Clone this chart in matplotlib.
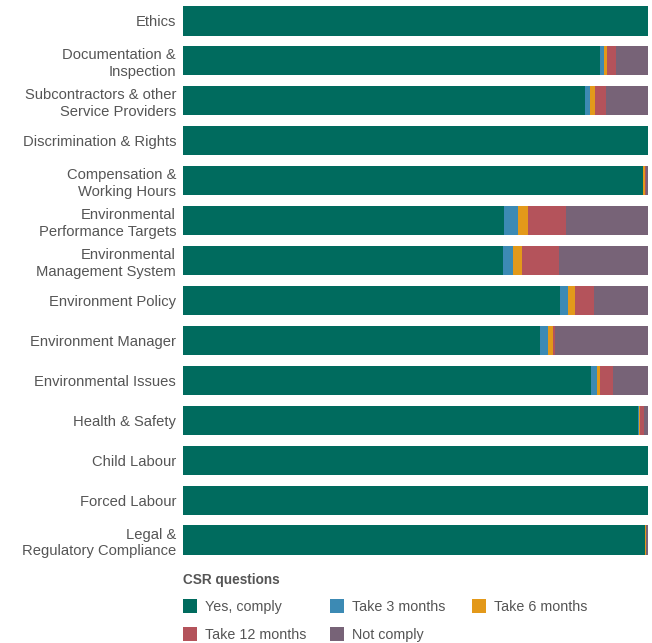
import matplotlib
matplotlib.use("Agg")
import matplotlib.pyplot as plt
from matplotlib.patches import Rectangle

plt.rcParams["font.family"] = ["Liberation Sans Narrow", "Liberation Sans", "DejaVu Sans"]

categories = [
    "Ethics",
    "Documentation &\nInspection",
    "Subcontractors & other\nService Providers",
    "Discrimination & Rights",
    "Compensation &\nWorking Hours",
    "Environmental\nPerformance Targets",
    "Environmental\nManagement System",
    "Environment Policy",
    "Environment Manager",
    "Environmental Issues",
    "Health & Safety",
    "Child Labour",
    "Forced Labour",
    "Legal &\nRegulatory Compliance",
]

# percentages
yes_comply = [100, 89.7, 86.5, 100, 99.0, 69.0, 68.8, 81.1, 76.8, 87.7, 97.8, 100, 100, 99.4]
take_3 = [0, 0.9, 1.1, 0, 0, 3.0, 2.2, 1.7, 1.7, 1.3, 0.2, 0, 0, 0]
take_6 = [0, 0.6, 0.9, 0, 0.4, 2.2, 1.9, 1.5, 1.1, 0.6, 0.2, 0, 0, 0.2]
take_12 = [0, 1.9, 2.4, 0, 0.1, 8.2, 8.0, 4.1, 0.4, 2.8, 1.0, 0, 0, 0]
not_comply = [0, 6.9, 9.1, 0, 0.5, 17.6, 19.1, 11.6, 20.0, 7.6, 0.8, 0, 0, 0.4]

series = [
    ("Yes, comply", yes_comply, "#006b5e"),
    ("Take 3 months", take_3, "#3c8ab4"),
    ("Take 6 months", take_6, "#e3991a"),
    ("Take 12 months", take_12, "#b4535b"),
    ("Not comply", not_comply, "#776377"),
]

text_color = "#555555"
W, H = 652, 643
fig = plt.figure(figsize=(W / 100, H / 100), dpi=100)
# axes: x 183..648 px, y 1..560 px from top
ax = fig.add_axes([183 / W, 1 - 560 / H, (648 - 183) / W, (560 - 1) / H])

ypos = list(range(len(categories)))
left = [0.0] * len(categories)
for name, vals, col in series:
    ax.barh(ypos, vals, left=left, height=0.73, color=col, linewidth=0)
    left = [a + b for a, b in zip(left, vals)]

ax.set_xlim(0, 100)
ax.set_ylim(len(categories) - 0.5, -0.5)
ax.set_yticks(ypos)
ax.set_yticklabels(categories, fontsize=10.6, color=text_color, linespacing=1.25)
ax.tick_params(axis="y", length=0, pad=5)
ax.set_xticks([])
for s in ax.spines.values():
    s.set_visible(False)

# legend, drawn by hand in figure pixels
fig.text(183 / W, 1 - 580 / H, "CSR questions", fontsize=9.8, fontweight="bold",
         color=text_color, va="center", ha="left")
entries = [
    (183, 606, 0), (330, 606, 1), (472, 606, 2),
    (183, 634, 3), (330, 634, 4),
]
for x, y, i in entries:
    name, _, col = series[i]
    fig.add_artist(Rectangle((x / W, 1 - (y + 7) / H), 14 / W, 14 / H,
                             transform=fig.transFigure, color=col, lw=0))
    fig.text((x + 22) / W, 1 - (y + 1) / H, name, fontsize=10.3, color=text_color,
             va="center", ha="left")

fig.savefig("out.png", dpi=100)
